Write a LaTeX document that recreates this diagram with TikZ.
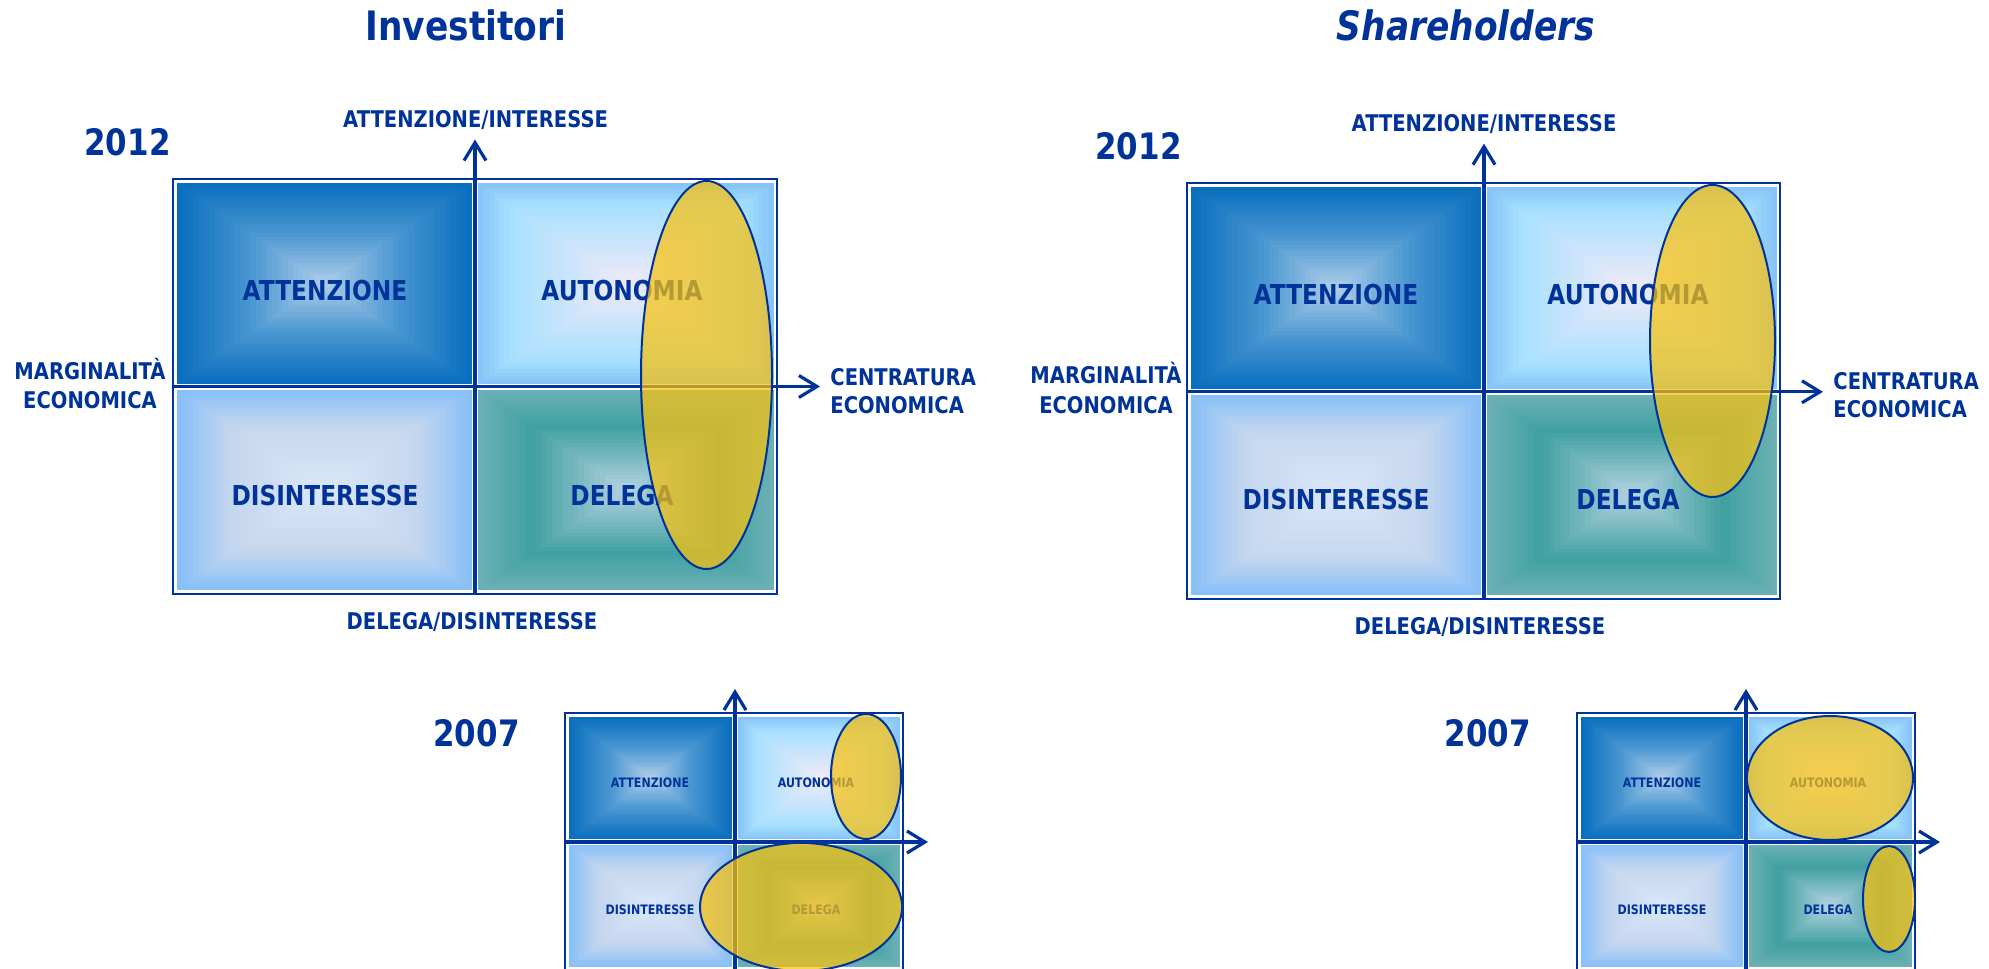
\documentclass[tikz,border=0pt]{standalone}
\usepackage{fontspec}
\usetikzlibrary{arrows.meta,shapes.geometric}
\newfontfamily\dv[FakeStretch=0.85]{DejaVu Sans}
\definecolor{txtblue}{HTML}{003399}
\definecolor{tlE}{HTML}{0A6EBE}\definecolor{tlM}{HTML}{4C98D2}\definecolor{tlC}{HTML}{B4D0EA}
\definecolor{trE}{HTML}{88C4F8}\definecolor{trM}{HTML}{A6E0FF}\definecolor{trC}{HTML}{F2EAF8}
\definecolor{blE}{HTML}{88C0F8}\definecolor{blM}{HTML}{C4D6EE}\definecolor{blC}{HTML}{DCE8FA}
\definecolor{brE}{HTML}{6AB0B4}\definecolor{brM}{HTML}{40A0A0}\definecolor{brC}{HTML}{B8D4E4}
\definecolor{gold}{HTML}{FAC20E}
% nested-rectangle gradient: x1 y1 x2 y2 edge mid centre stop
\newcommand{\gradbox}[8]{%
  \foreach \qgI in {0,...,27}{%
    \pgfmathsetmacro{\qgT}{\qgI/28}%
    \pgfmathsetmacro{\qgX}{\qgT*((#3)-(#1))/2}%
    \pgfmathsetmacro{\qgY}{\qgT*((#4)-(#2))/2}%
    \pgfmathtruncatemacro{\qgP}{\qgT<#8 ? 100*\qgT/#8 : 100*(\qgT-#8)/(1-#8)}%
    \ifdim\qgT pt<#8pt \colorlet{gcol}{#6!\qgP!#5}\else\colorlet{gcol}{#7!\qgP!#6}\fi
    \fill[gcol] ({(#1)+\qgX},{(#2)+\qgY}) rectangle ({(#3)-\qgX},{(#4)-\qgY});
  }%
}
% four quadrants: x1 y1 x2 y2 axisx axisy
\newcommand{\quads}[6]{%
  \gradbox{(#1)+4}{(#2)+4}{(#5)-3}{(#6)-3}{tlE}{tlM}{tlC}{0.5}%
  \gradbox{(#5)+3}{(#2)+4}{(#3)-3}{(#6)-3}{trE}{trM}{trC}{0.2}%
  \gradbox{(#1)+4}{(#6)+3}{(#5)-3}{(#4)-4}{blE}{blM}{blC}{0.35}%
  \gradbox{(#5)+3}{(#6)+3}{(#3)-3}{(#4)-4}{brE}{brM}{brC}{0.35}%
}
\tikzset{
  lbl/.style={text=txtblue, inner sep=0pt, text depth=0pt},
  ttl/.style={lbl, text height=14.76pt, font=\dv\bfseries\fontsize{20.25}{24}\selectfont},
  yr/.style={lbl, anchor=west, text height=13.27pt, font=\dv\bfseries\fontsize{18.2}{22}\selectfont},
  axl/.style={lbl, text height=8.38pt, font=\dv\bfseries\fontsize{11.5}{14}\selectfont},
  qbig/.style={lbl, text height=9.99pt, font=\dv\bfseries\fontsize{13.7}{16}\selectfont},
  qsmall/.style={lbl, text height=4.74pt, font=\dv\bfseries\fontsize{6.5}{8}\selectfont},
  frame/.style={draw=txtblue, line width=1.1pt},
  axis/.style={draw=txtblue, line width=1.6pt, -{Straight Barb[length=9pt,width=11pt,line width=1.6pt]}},
  oval/.style={ellipse, draw=txtblue, line width=1pt, fill=gold, fill opacity=0.72, draw opacity=1, inner sep=0pt, outer sep=0pt},
}
\begin{document}
\begin{tikzpicture}[x=0.5pt,y=-0.5pt]
\useasboundingbox (0,0) rectangle (1989,968);
\clip (0,0) rectangle (1989,968);

% ---------------- Panel 1: Investitori 2012
\quads{173}{179.3}{777}{594}{475}{386.5}
\coordinate (p1nw) at (173,179.3);
\coordinate (p1se) at (777,594);
\draw[frame] (p1nw) rectangle (p1se);
\coordinate (p1vb) at (475,594);
\coordinate (p1vt) at (475,139.5);
\coordinate (p1hl) at (173,386.5);
\coordinate (p1hr) at (820,386.5);
\draw[axis] (p1vb) -- (p1vt);
\draw[axis] (p1hl) -- (p1hr);
\node[qbig] (p1q1) at (325,290.5) {ATTENZIONE};
\node[qbig] (p1q2) at (622,290.5) {AUTONOMIA};
\node[qbig] (p1q3) at (325,495.6) {DISINTERESSE};
\node[qbig] (p1q4) at (622,495.6) {DELEGA};
\node[oval, minimum width=65.5pt, minimum height=194pt] (p1e) at (706.5,375) {};
\node[ttl] (t1) at (466,26.2) {Investitori};
\node[yr] (y1) at (84,142.7) {2012};
\node[axl] (p1top) at (475.6,119) {ATTENZIONE/INTERESSE};
\node[axl] (p1m1) at (90,371) {MARGINALITÀ};
\node[axl] (p1m2) at (90,400) {ECONOMICA};
\node[axl, anchor=west] (p1c1) at (830,377.4) {CENTRATURA};
\node[axl, anchor=west] (p1c2) at (830,405.3) {ECONOMICA};
\node[axl] (p1bot) at (472,621.5) {DELEGA/DISINTERESSE};

% ---------------- Panel 2: Shareholders 2012
\quads{1187}{183.4}{1780}{599}{1484}{391.8}
\coordinate (p2nw) at (1187,183.4);
\coordinate (p2se) at (1780,599);
\draw[frame] (p2nw) rectangle (p2se);
\coordinate (p2vb) at (1484,599);
\coordinate (p2vt) at (1484,143.6);
\coordinate (p2hl) at (1187,391.8);
\coordinate (p2hr) at (1823,391.8);
\draw[axis] (p2vb) -- (p2vt);
\draw[axis] (p2hl) -- (p2hr);
\node[qbig] (p2q1) at (1336,295) {ATTENZIONE};
\node[qbig] (p2q2) at (1628,295) {AUTONOMIA};
\node[qbig] (p2q3) at (1336,500) {DISINTERESSE};
\node[qbig] (p2q4) at (1628,500) {DELEGA};
\node[oval, minimum width=62.5pt, minimum height=156pt] (p2e) at (1712.5,341) {};
\node[ttl, font=\dv\bfseries\itshape\fontsize{20.25}{24}\selectfont] (t2) at (1466,26.2) {Shareholders};
\node[yr] (y2) at (1095,145.8) {2012};
\node[axl] (p2top) at (1484,123) {ATTENZIONE/INTERESSE};
\node[axl] (p2m1) at (1106,375) {MARGINALITÀ};
\node[axl] (p2m2) at (1106,405) {ECONOMICA};
\node[axl, anchor=west] (p2c1) at (1833,381.5) {CENTRATURA};
\node[axl, anchor=west] (p2c2) at (1833,409.4) {ECONOMICA};
\node[axl] (p2bot) at (1480,626.5) {DELEGA/DISINTERESSE};

% ---------------- Panel 3: Investitori 2007
\quads{565}{713}{903}{971}{735}{842}
\coordinate (p3nw) at (565,713);
\coordinate (p3se) at (903,971);
\draw[frame] (p3nw) rectangle (p3se);
\coordinate (p3vb) at (735,971);
\coordinate (p3vt) at (735,689);
\coordinate (p3hl) at (565,842);
\coordinate (p3hr) at (928,842);
\draw[axis] (p3vb) -- (p3vt);
\draw[axis] (p3hl) -- (p3hr);
\node[qsmall] (p3q1) at (650,783) {ATTENZIONE};
\node[qsmall] (p3q2) at (816,783) {AUTONOMIA};
\node[qsmall] (p3q3) at (650,910) {DISINTERESSE};
\node[qsmall] (p3q4) at (816,910) {DELEGA};
\node[oval, minimum width=35pt, minimum height=62.5pt] (p3e1) at (866,776.5) {};
\node[oval, minimum width=101pt, minimum height=64pt] (p3e2) at (801,907) {};
\node[yr] (y3) at (433,733) {2007};

% ---------------- Panel 4: Shareholders 2007
\quads{1577}{713}{1915}{971}{1746}{842}
\coordinate (p4nw) at (1577,713);
\coordinate (p4se) at (1915,971);
\draw[frame] (p4nw) rectangle (p4se);
\coordinate (p4vb) at (1746,971);
\coordinate (p4vt) at (1746,689);
\coordinate (p4hl) at (1577,842);
\coordinate (p4hr) at (1940,842);
\draw[axis] (p4vb) -- (p4vt);
\draw[axis] (p4hl) -- (p4hr);
\node[qsmall] (p4q1) at (1662,783) {ATTENZIONE};
\node[qsmall] (p4q2) at (1828,783) {AUTONOMIA};
\node[qsmall] (p4q3) at (1662,910) {DISINTERESSE};
\node[qsmall] (p4q4) at (1828,910) {DELEGA};
\node[oval, minimum width=83pt, minimum height=62pt] (p4e1) at (1830,778) {};
\node[oval, minimum width=26pt, minimum height=53pt] (p4e2) at (1889,899) {};
\node[yr] (y4) at (1444.5,733) {2007};
\end{tikzpicture}
\end{document}
